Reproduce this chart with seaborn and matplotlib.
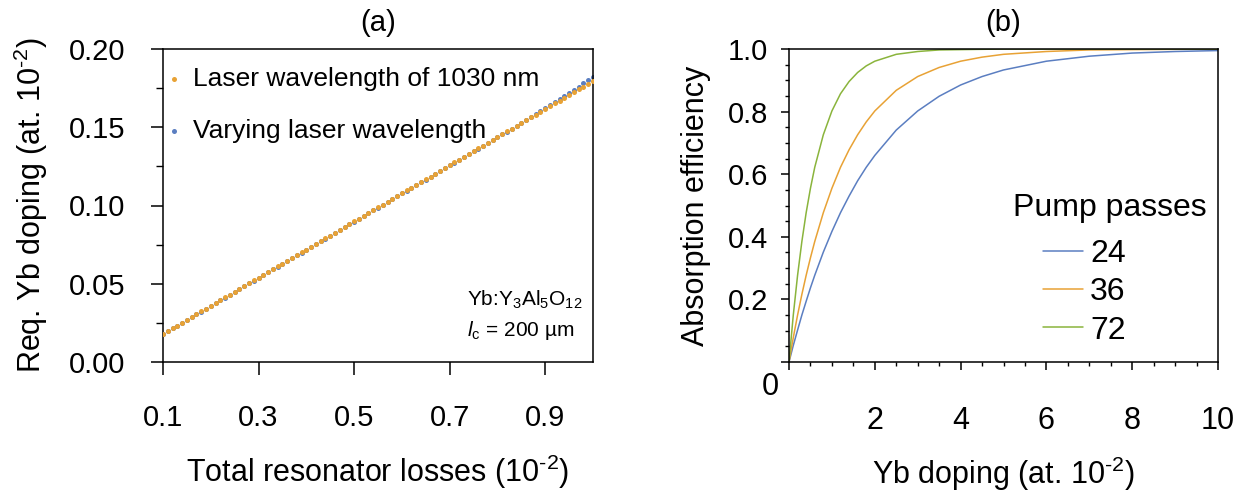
import numpy as np
import pandas as pd
import matplotlib
matplotlib.use("Agg")
import matplotlib.pyplot as plt
import seaborn as sns

# ---- (a) required Yb doping vs. total resonator losses ----
losses = [0.10, 0.11, 0.12, 0.13, 0.14, 0.15, 0.16, 0.17, 0.18, 0.19,
          0.20, 0.21, 0.22, 0.23, 0.24, 0.25, 0.26, 0.27, 0.28, 0.29,
          0.30, 0.31, 0.32, 0.33, 0.34, 0.35, 0.36, 0.37, 0.38, 0.39,
          0.40, 0.41, 0.42, 0.43, 0.44, 0.45, 0.46, 0.47, 0.48, 0.49,
          0.50, 0.51, 0.52, 0.53, 0.54, 0.55, 0.56, 0.57, 0.58, 0.59,
          0.60, 0.61, 0.62, 0.63, 0.64, 0.65, 0.66, 0.67, 0.68, 0.69,
          0.70, 0.71, 0.72, 0.73, 0.74, 0.75, 0.76, 0.77, 0.78, 0.79,
          0.80, 0.81, 0.82, 0.83, 0.84, 0.85, 0.86, 0.87, 0.88, 0.89,
          0.90, 0.91, 0.92, 0.93, 0.94, 0.95, 0.96, 0.97, 0.98, 0.99,
          1.00]

doping_1030 = [0.0180, 0.0198, 0.0216, 0.0233, 0.0251, 0.0269, 0.0287, 0.0305, 0.0323, 0.0341,
               0.0359, 0.0377, 0.0395, 0.0413, 0.0431, 0.0449, 0.0467, 0.0485, 0.0503, 0.0521,
               0.0539, 0.0557, 0.0575, 0.0593, 0.0611, 0.0629, 0.0647, 0.0665, 0.0682, 0.0700,
               0.0718, 0.0736, 0.0754, 0.0772, 0.0790, 0.0808, 0.0826, 0.0844, 0.0862, 0.0880,
               0.0898, 0.0916, 0.0934, 0.0952, 0.0970, 0.0988, 0.1006, 0.1024, 0.1042, 0.1060,
               0.1078, 0.1096, 0.1114, 0.1131, 0.1149, 0.1167, 0.1185, 0.1203, 0.1221, 0.1239,
               0.1257, 0.1275, 0.1293, 0.1311, 0.1329, 0.1347, 0.1365, 0.1383, 0.1401, 0.1419,
               0.1437, 0.1455, 0.1473, 0.1491, 0.1509, 0.1527, 0.1545, 0.1563, 0.1580, 0.1598,
               0.1616, 0.1634, 0.1652, 0.1670, 0.1688, 0.1706, 0.1724, 0.1742, 0.1760, 0.1778,
               0.1796]

doping_varying = [0.0179, 0.0197, 0.0215, 0.0232, 0.0250, 0.0268, 0.0286, 0.0304, 0.0322, 0.0340,
                  0.0358, 0.0376, 0.0394, 0.0412, 0.0430, 0.0448, 0.0466, 0.0484, 0.0502, 0.0520,
                  0.0538, 0.0556, 0.0574, 0.0592, 0.0610, 0.0628, 0.0646, 0.0664, 0.0681, 0.0699,
                  0.0717, 0.0735, 0.0753, 0.0771, 0.0789, 0.0807, 0.0825, 0.0843, 0.0861, 0.0879,
                  0.0897, 0.0915, 0.0933, 0.0951, 0.0969, 0.0987, 0.1005, 0.1023, 0.1041, 0.1059,
                  0.1077, 0.1095, 0.1113, 0.1130, 0.1148, 0.1166, 0.1184, 0.1202, 0.1220, 0.1238,
                  0.1256, 0.1274, 0.1292, 0.1310, 0.1328, 0.1346, 0.1364, 0.1382, 0.1400, 0.1418,
                  0.1436, 0.1454, 0.1472, 0.1490, 0.1508, 0.1527, 0.1546, 0.1565, 0.1583, 0.1602,
                  0.1621, 0.1641, 0.1660, 0.1680, 0.1700, 0.1720, 0.1740, 0.1760, 0.1780, 0.1800,
                  0.1821]

label_1030 = "Laser wavelength of 1030 nm"
label_varying = "Varying laser wavelength"

# ---- (b) absorption efficiency vs. Yb doping ----
yb_doping = [0.0, 0.1, 0.2, 0.3, 0.4, 0.5, 0.6, 0.8, 1.0, 1.2, 1.4, 1.6, 1.8, 2.0,
             2.5, 3.0, 3.5, 4.0, 4.5, 5.0, 6.0, 7.0, 8.0, 9.0, 10.0]
absorb_24 = [0.000, 0.053, 0.102, 0.150, 0.194, 0.237, 0.277, 0.351, 0.417, 0.477,
             0.530, 0.579, 0.622, 0.660, 0.741, 0.802, 0.849, 0.885, 0.912, 0.933,
             0.961, 0.977, 0.987, 0.992, 0.995]
absorb_36 = [0.000, 0.078, 0.150, 0.216, 0.277, 0.333, 0.385, 0.477, 0.555, 0.622,
             0.678, 0.726, 0.767, 0.802, 0.868, 0.912, 0.941, 0.961, 0.974, 0.983,
             0.992, 0.997, 0.998, 0.999, 1.000]
absorb_72 = [0.000, 0.150, 0.277, 0.385, 0.477, 0.555, 0.622, 0.726, 0.802, 0.857,
             0.896, 0.925, 0.946, 0.961, 0.983, 0.992, 0.997, 0.998, 0.999, 1.000,
             1.000, 1.000, 1.000, 1.000, 1.000]
pump_passes = ["24", "36", "72"]

BLUE = "#5B7EC1"
ORANGE = "#E8A235"
GREEN = "#8AB43C"

sns.set_theme(style="ticks")
plt.rcParams["font.family"] = ["Liberation Sans", "DejaVu Sans"]
plt.rcParams["mathtext.fontset"] = "custom"
plt.rcParams["mathtext.rm"] = "Liberation Sans"
plt.rcParams["mathtext.it"] = "Liberation Sans:italic"
plt.rcParams["axes.edgecolor"] = "black"
plt.rcParams["axes.linewidth"] = 1.1
plt.rcParams["xtick.color"] = "black"
plt.rcParams["ytick.color"] = "black"
plt.rcParams["text.color"] = "black"
plt.rcParams["axes.labelcolor"] = "black"

SUP = "$^{\\text{-}2}$"

fig = plt.figure(figsize=(12.37, 4.92), dpi=100)
W, H = 1237.0, 492.0
ax_a = fig.add_axes([163 / W, 1 - 362 / H, 430 / W, 313 / H])
ax_b = fig.add_axes([789 / W, 1 - 362 / H, 429 / W, 313 / H])

# ---------- panel (a) ----------
sns.scatterplot(x=losses, y=doping_varying, ax=ax_a, color=BLUE, s=13,
                linewidth=0, label=label_varying, zorder=2)
sns.scatterplot(x=losses, y=doping_1030, ax=ax_a, color=ORANGE, s=13,
                linewidth=0, label=label_1030, zorder=3)
ax_a.set_xlim(0.1, 1.0)
ax_a.set_ylim(0.0, 0.2)
ax_a.set_xticks([0.1, 0.3, 0.5, 0.7, 0.9])
ax_a.set_xticklabels(["0.1", "0.3", "0.5", "0.7", "0.9"])
ax_a.set_yticks([0.0, 0.05, 0.10, 0.15, 0.20])
ax_a.set_yticklabels(["0.00", "0.05", "0.10", "0.15", "0.20"])
ax_a.set_yticks([0.025, 0.075, 0.125, 0.175], minor=True)
ax_a.tick_params(axis="x", which="major", direction="out", length=9, width=1.1,
                 pad=21, labelsize=21)
ax_a.tick_params(axis="y", which="major", direction="out", length=9, width=1.1,
                 pad=18, labelsize=21)
ax_a.tick_params(axis="y", which="minor", direction="out", length=5, width=1.0)
for sp in ax_a.spines.values():
    sp.set_visible(True)
ax_a.set_xlabel("Total resonator losses (10" + SUP + ")", fontsize=22, labelpad=15)
ax_a.set_ylabel("Req. Yb doping (at. 10" + SUP + ")", fontsize=22, labelpad=14)
ax_a.set_title("(a)", fontsize=21, pad=13)

h, l = ax_a.get_legend_handles_labels()
order = [l.index(label_1030), l.index(label_varying)]
ax_a.legend([h[i] for i in order], [l[i] for i in order], loc="upper left",
            bbox_to_anchor=(-0.005, 0.96), frameon=False, fontsize=19,
            handlelength=0.6, handletextpad=0.4, labelspacing=1.05,
            borderpad=0.2, borderaxespad=0.0, markerscale=1.0)

ax_a.text(0.707, 0.198, "Yb:Y$_3$Al$_5$O$_{12}$", transform=ax_a.transAxes,
          fontsize=15, ha="left", va="center")
ax_a.text(0.707, 0.100, "$\\it{l}$$_{\\rm c}$ = 200 µm", transform=ax_a.transAxes,
          fontsize=15, ha="left", va="center")

# ---------- panel (b) ----------
df_b = pd.DataFrame({
    "doping": yb_doping * 3,
    "eff": absorb_24 + absorb_36 + absorb_72,
    "passes": [pump_passes[0]] * len(yb_doping) + [pump_passes[1]] * len(yb_doping)
              + [pump_passes[2]] * len(yb_doping),
})
sns.lineplot(data=df_b, x="doping", y="eff", hue="passes", hue_order=pump_passes,
             palette=[BLUE, ORANGE, GREEN], linewidth=1.1, ax=ax_b, legend=True)
ax_b.set_xlim(0, 10)
ax_b.set_ylim(0, 1.0)
ax_b.set_xticks([0, 2, 4, 6, 8, 10])
ax_b.set_xticklabels(["", "2", "4", "6", "8", "10"])
minor_x = [v for v in np.arange(0.5, 10, 0.5) if v % 2 != 0]
ax_b.set_xticks(minor_x, minor=True)
minor_y = [v for v in np.arange(0.05, 1.0, 0.05) if abs(v / 0.2 - round(v / 0.2)) > 1e-6]
ax_b.set_yticks([0.0, 0.2, 0.4, 0.6, 0.8, 1.0])
ax_b.set_yticklabels(["", "0.2", "0.4", "0.6", "0.8", "1.0"])
ax_b.set_yticks(minor_y, minor=True)
ax_b.tick_params(axis="x", which="major", direction="out", length=6, width=1.1,
                 pad=26, labelsize=22)
ax_b.tick_params(axis="y", which="major", direction="out", length=6, width=1.1,
                 pad=9, labelsize=21)
ax_b.tick_params(which="minor", direction="out", length=3, width=1.0)
for sp in ax_b.spines.values():
    sp.set_visible(True)
ax_b.set_xlabel("Yb doping (at. 10" + SUP + ")", fontsize=22, labelpad=13)
ax_b.set_ylabel("Absorption efficiency", fontsize=22, labelpad=12)
ax_b.set_title("(b)", fontsize=21, pad=13)
fig.text(770 / W, 1 - 387 / H, "0", fontsize=22, ha="center", va="center")

leg = ax_b.legend(loc="upper left",
                  bbox_to_anchor=(1043 / W, 1 - 239 / H), bbox_transform=fig.transFigure,
                  frameon=False, fontsize=23,
                  handlelength=1.25, handletextpad=0.22, labelspacing=0.26,
                  borderpad=0.0, borderaxespad=0.0)
for line in leg.get_lines():
    line.set_linewidth(1.1)
fig.text(1110 / W, 1 - 208 / H, "Pump passes", fontsize=23, ha="center", va="center")

fig.savefig("out.png", dpi=100)
